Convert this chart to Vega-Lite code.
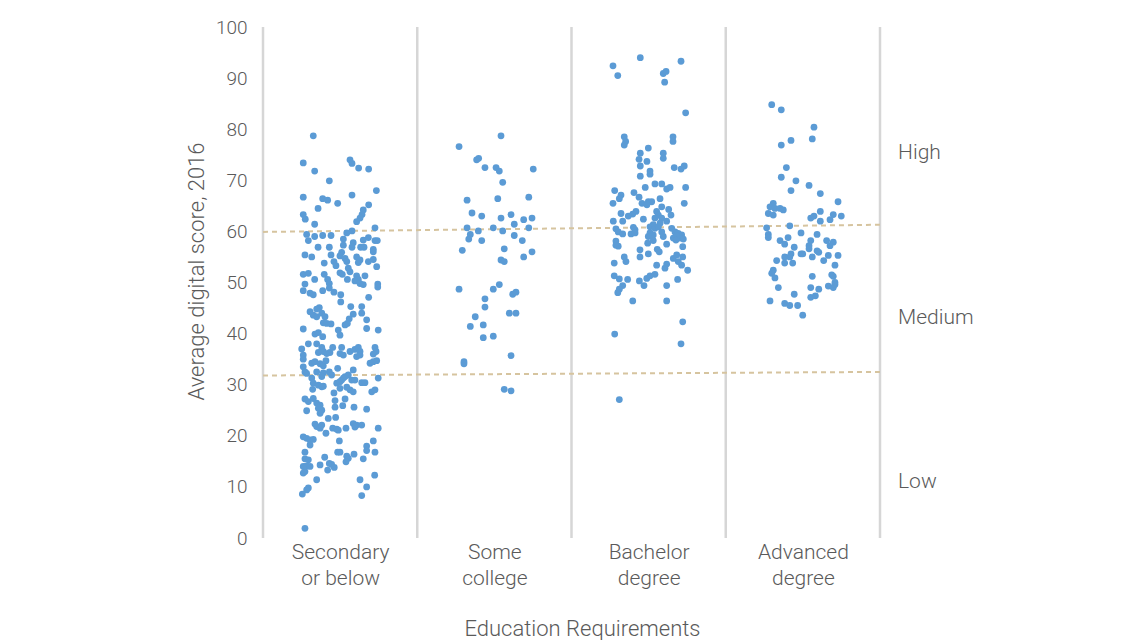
{
  "$schema": "https://vega.github.io/schema/vega-lite/v6.json",
  "autosize": "none",
  "width": 617,
  "height": 511,
  "padding": {"left": 263, "top": 27, "right": 253, "bottom": 102},
  "background": "white",
  "config": {"view": {"stroke": null}, "font": "Roboto"},
  "datasets": {
    "pts": [
      {"x":0.326,"s":78.7},{"x":0.261,"s":73.4},{"x":0.564,"s":74.0},{"x":0.577,"s":73.3},{"x":0.335,"s":71.8},{"x":0.620,"s":72.4},{"x":0.685,"s":72.2},{"x":0.430,"s":69.9},{"x":0.735,"s":68.0},{"x":0.261,"s":66.7},
      {"x":0.577,"s":67.1},{"x":0.387,"s":66.4},{"x":0.419,"s":66.1},{"x":0.484,"s":65.5},{"x":0.357,"s":64.5},{"x":0.685,"s":65.2},{"x":0.650,"s":64.2},{"x":0.642,"s":63.3},{"x":0.629,"s":62.6},{"x":0.607,"s":61.9},
      {"x":0.261,"s":63.3},{"x":0.274,"s":62.4},{"x":0.335,"s":61.4},{"x":0.726,"s":60.7},{"x":0.577,"s":60.1},{"x":0.543,"s":59.7},{"x":0.283,"s":59.4},{"x":0.335,"s":59.0},{"x":0.387,"s":59.2},{"x":0.441,"s":59.2},
      {"x":0.294,"s":58.2},{"x":0.521,"s":58.5},{"x":0.585,"s":57.8},{"x":0.650,"s":58.3},{"x":0.683,"s":58.8},{"x":0.726,"s":58.2},{"x":0.741,"s":58.2},{"x":0.521,"s":57.3},{"x":0.357,"s":56.9},{"x":0.430,"s":56.9},
      {"x":0.577,"s":56.9},{"x":0.633,"s":56.9},{"x":0.655,"s":56.9},{"x":0.715,"s":56.5},{"x":0.715,"s":56.0},{"x":0.510,"s":55.9},{"x":0.499,"s":55.2},{"x":0.272,"s":55.4},{"x":0.316,"s":55.0},{"x":0.441,"s":55.4},
      {"x":0.607,"s":55.0},{"x":0.629,"s":54.4},{"x":0.618,"s":53.9},{"x":0.532,"s":54.7},{"x":0.543,"s":54.1},{"x":0.715,"s":54.5},{"x":0.683,"s":54.1},{"x":0.460,"s":54.1},{"x":0.473,"s":53.3},{"x":0.397,"s":53.8},
      {"x":0.737,"s":53.1},{"x":0.553,"s":52.8},{"x":0.564,"s":52.1},{"x":0.261,"s":51.6},{"x":0.294,"s":51.8},{"x":0.397,"s":51.6},{"x":0.419,"s":50.6},{"x":0.430,"s":49.8},{"x":0.499,"s":51.9},{"x":0.514,"s":51.6},
      {"x":0.607,"s":51.3},{"x":0.618,"s":50.6},{"x":0.596,"s":50.3},{"x":0.661,"s":51.3},{"x":0.335,"s":50.6},{"x":0.547,"s":50.6},{"x":0.272,"s":49.7},{"x":0.629,"s":49.8},{"x":0.650,"s":49.6},{"x":0.744,"s":49.7},
      {"x":0.744,"s":49.1},{"x":0.261,"s":48.4},{"x":0.387,"s":48.4},{"x":0.430,"s":48.9},{"x":0.460,"s":48.1},{"x":0.305,"s":47.9},{"x":0.326,"s":47.6},{"x":0.504,"s":47.6},{"x":0.504,"s":46.2},{"x":0.685,"s":47.1},
      {"x":0.365,"s":45.1},{"x":0.348,"s":44.8},{"x":0.569,"s":45.3},{"x":0.640,"s":45.3},{"x":0.305,"s":44.3},{"x":0.326,"s":43.6},{"x":0.348,"s":43.3},{"x":0.381,"s":44.0},{"x":0.402,"s":43.3},{"x":0.585,"s":43.8},
      {"x":0.559,"s":42.9},{"x":0.547,"s":42.0},{"x":0.532,"s":41.7},{"x":0.640,"s":44.0},{"x":0.672,"s":42.7},{"x":0.391,"s":42.1},{"x":0.413,"s":42.0},{"x":0.441,"s":41.9},{"x":0.261,"s":40.9},{"x":0.488,"s":40.7},
      {"x":0.672,"s":41.0},{"x":0.747,"s":40.7},{"x":0.337,"s":39.9},{"x":0.359,"s":40.2},{"x":0.387,"s":39.4},{"x":0.499,"s":39.7},{"x":0.294,"s":38.0},{"x":0.348,"s":38.0},{"x":0.251,"s":37.0},{"x":0.381,"s":37.3},
      {"x":0.391,"s":36.5},{"x":0.359,"s":36.3},{"x":0.413,"s":36.1},{"x":0.434,"s":36.3},{"x":0.452,"s":37.3},{"x":0.510,"s":37.3},{"x":0.499,"s":36.1},{"x":0.521,"s":35.8},{"x":0.564,"s":36.5},{"x":0.596,"s":36.9},
      {"x":0.618,"s":37.3},{"x":0.629,"s":36.5},{"x":0.607,"s":35.5},{"x":0.629,"s":35.8},{"x":0.726,"s":37.3},{"x":0.733,"s":36.5},{"x":0.715,"s":36.0},{"x":0.261,"s":35.8},{"x":0.261,"s":35.0},{"x":0.316,"s":34.2},
      {"x":0.337,"s":34.5},{"x":0.370,"s":34.1},{"x":0.391,"s":33.7},{"x":0.408,"s":34.7},{"x":0.694,"s":34.2},{"x":0.715,"s":34.5},{"x":0.737,"s":34.7},{"x":0.261,"s":33.5},{"x":0.272,"s":32.5},{"x":0.283,"s":32.2},
      {"x":0.348,"s":32.5},{"x":0.391,"s":32.3},{"x":0.430,"s":32.5},{"x":0.445,"s":31.9},{"x":0.484,"s":33.2},{"x":0.585,"s":32.9},{"x":0.316,"s":31.3},{"x":0.326,"s":30.3},{"x":0.322,"s":29.1},{"x":0.381,"s":31.6},
      {"x":0.478,"s":30.3},{"x":0.499,"s":30.6},{"x":0.510,"s":30.9},{"x":0.521,"s":31.3},{"x":0.532,"s":31.6},{"x":0.553,"s":31.9},{"x":0.359,"s":29.9},{"x":0.381,"s":29.6},{"x":0.391,"s":29.7},{"x":0.575,"s":30.9},
      {"x":0.596,"s":30.9},{"x":0.640,"s":30.4},{"x":0.661,"s":30.4},{"x":0.747,"s":31.3},{"x":0.499,"s":29.3},{"x":0.543,"s":29.5},{"x":0.564,"s":29.0},{"x":0.585,"s":28.6},{"x":0.460,"s":28.4},{"x":0.705,"s":28.6},
      {"x":0.726,"s":29.0},{"x":0.272,"s":27.2},{"x":0.294,"s":26.7},{"x":0.326,"s":27.3},{"x":0.467,"s":26.9},{"x":0.532,"s":27.2},{"x":0.348,"s":26.4},{"x":0.370,"s":26.0},{"x":0.359,"s":25.4},{"x":0.381,"s":25.0},
      {"x":0.370,"s":24.4},{"x":0.467,"s":25.6},{"x":0.517,"s":25.9},{"x":0.590,"s":25.6},{"x":0.672,"s":25.2},{"x":0.283,"s":24.9},{"x":0.423,"s":23.4},{"x":0.471,"s":23.6},{"x":0.337,"s":22.3},{"x":0.348,"s":21.8},
      {"x":0.370,"s":21.5},{"x":0.381,"s":22.1},{"x":0.452,"s":21.5},{"x":0.478,"s":21.3},{"x":0.488,"s":21.1},{"x":0.538,"s":21.5},{"x":0.585,"s":22.4},{"x":0.607,"s":22.1},{"x":0.596,"s":21.7},{"x":0.640,"s":22.1},
      {"x":0.747,"s":21.5},{"x":0.408,"s":20.5},{"x":0.261,"s":19.8},{"x":0.283,"s":19.5},{"x":0.305,"s":19.2},{"x":0.326,"s":19.3},{"x":0.305,"s":18.2},{"x":0.495,"s":19.0},{"x":0.715,"s":19.0},{"x":0.672,"s":18.0},
      {"x":0.672,"s":17.1},{"x":0.272,"s":16.8},{"x":0.272,"s":15.5},{"x":0.294,"s":15.3},{"x":0.484,"s":16.8},{"x":0.499,"s":16.8},{"x":0.543,"s":16.0},{"x":0.553,"s":15.6},{"x":0.538,"s":14.9},{"x":0.590,"s":16.4},
      {"x":0.726,"s":16.8},{"x":0.400,"s":15.8},{"x":0.650,"s":15.5},{"x":0.430,"s":14.6},{"x":0.445,"s":14.4},{"x":0.462,"s":13.8},{"x":0.419,"s":13.3},{"x":0.370,"s":14.3},{"x":0.261,"s":14.0},{"x":0.283,"s":14.1},
      {"x":0.272,"s":13.0},{"x":0.261,"s":12.7},{"x":0.305,"s":14.0},{"x":0.724,"s":12.3},{"x":0.348,"s":11.4},{"x":0.629,"s":11.4},{"x":0.672,"s":10.0},{"x":0.294,"s":9.8},{"x":0.283,"s":9.4},{"x":0.255,"s":8.6},
      {"x":0.640,"s":8.3},{"x":0.272,"s":1.9},
      {"x":1.543,"s":78.7},{"x":1.271,"s":76.6},{"x":1.385,"s":74.0},{"x":1.398,"s":74.3},{"x":1.439,"s":72.5},{"x":1.511,"s":72.5},{"x":1.532,"s":71.8},{"x":1.752,"s":72.2},{"x":1.554,"s":69.6},{"x":1.323,"s":66.1},
      {"x":1.522,"s":66.4},{"x":1.723,"s":66.7},{"x":1.355,"s":63.6},{"x":1.418,"s":63.0},{"x":1.543,"s":62.6},{"x":1.608,"s":63.3},{"x":1.690,"s":62.3},{"x":1.744,"s":62.6},{"x":1.629,"s":61.4},{"x":1.323,"s":60.7},
      {"x":1.493,"s":60.7},{"x":1.723,"s":60.7},{"x":1.344,"s":59.4},{"x":1.334,"s":58.5},{"x":1.396,"s":60.1},{"x":1.554,"s":60.1},{"x":1.629,"s":59.2},{"x":1.418,"s":58.2},{"x":1.681,"s":58.2},{"x":1.292,"s":56.3},
      {"x":1.564,"s":56.6},{"x":1.690,"s":55.0},{"x":1.744,"s":56.0},{"x":1.543,"s":54.4},{"x":1.564,"s":54.1},{"x":1.271,"s":48.7},{"x":1.493,"s":48.7},{"x":1.532,"s":49.6},{"x":1.439,"s":46.8},{"x":1.439,"s":45.2},
      {"x":1.619,"s":47.7},{"x":1.640,"s":48.1},{"x":1.597,"s":44.0},{"x":1.640,"s":44.0},{"x":1.376,"s":43.3},{"x":1.344,"s":41.4},{"x":1.428,"s":41.7},{"x":1.428,"s":39.2},{"x":1.493,"s":39.5},{"x":1.608,"s":35.7},
      {"x":1.303,"s":34.5},{"x":1.303,"s":34.1},{"x":1.564,"s":29.1},{"x":1.608,"s":28.8},
      {"x":2.446,"s":94.0},{"x":2.269,"s":92.4},{"x":2.300,"s":90.5},{"x":2.710,"s":93.3},{"x":2.595,"s":90.9},{"x":2.613,"s":91.3},{"x":2.604,"s":89.2},{"x":2.740,"s":83.2},{"x":2.342,"s":78.5},{"x":2.351,"s":77.6},
      {"x":2.342,"s":76.9},{"x":2.658,"s":78.5},{"x":2.658,"s":77.6},{"x":2.498,"s":76.3},{"x":2.446,"s":75.3},{"x":2.438,"s":74.1},{"x":2.446,"s":72.8},{"x":2.595,"s":75.3},{"x":2.595,"s":74.3},{"x":2.489,"s":73.7},
      {"x":2.666,"s":72.5},{"x":2.710,"s":72.2},{"x":2.731,"s":72.8},{"x":2.509,"s":71.8},{"x":2.509,"s":71.2},{"x":2.446,"s":70.8},{"x":2.541,"s":69.3},{"x":2.585,"s":69.3},{"x":2.478,"s":68.6},{"x":2.617,"s":68.3},
      {"x":2.639,"s":68.6},{"x":2.740,"s":68.6},{"x":2.280,"s":68.0},{"x":2.321,"s":67.1},{"x":2.310,"s":66.4},{"x":2.405,"s":67.6},{"x":2.438,"s":66.7},{"x":2.574,"s":66.4},{"x":2.269,"s":65.5},{"x":2.457,"s":65.5},
      {"x":2.498,"s":65.8},{"x":2.520,"s":65.8},{"x":2.489,"s":65.2},{"x":2.585,"s":64.8},{"x":2.731,"s":65.5},{"x":2.630,"s":64.3},{"x":2.418,"s":63.9},{"x":2.397,"s":63.4},{"x":2.368,"s":63.0},{"x":2.321,"s":63.5},
      {"x":2.552,"s":63.9},{"x":2.563,"s":63.2},{"x":2.541,"s":62.6},{"x":2.645,"s":63.2},{"x":2.271,"s":62.0},{"x":2.332,"s":62.0},{"x":2.466,"s":62.4},{"x":2.585,"s":62.6},{"x":2.574,"s":61.6},{"x":2.617,"s":62.0},
      {"x":2.530,"s":61.3},{"x":2.509,"s":60.9},{"x":2.541,"s":60.6},{"x":2.563,"s":60.9},{"x":2.401,"s":60.8},{"x":2.412,"s":60.3},{"x":2.288,"s":60.5},{"x":2.303,"s":59.9},{"x":2.650,"s":60.6},{"x":2.671,"s":59.9},
      {"x":2.692,"s":59.6},{"x":2.714,"s":59.3},{"x":2.703,"s":58.7},{"x":2.682,"s":59.1},{"x":2.660,"s":58.7},{"x":2.332,"s":59.5},{"x":2.386,"s":59.5},{"x":2.412,"s":59.7},{"x":2.509,"s":59.7},{"x":2.530,"s":59.3},
      {"x":2.498,"s":59.0},{"x":2.585,"s":59.9},{"x":2.595,"s":59.0},{"x":2.288,"s":58.1},{"x":2.288,"s":57.3},{"x":2.303,"s":57.1},{"x":2.494,"s":57.7},{"x":2.530,"s":58.2},{"x":2.617,"s":57.5},{"x":2.677,"s":58.3},
      {"x":2.725,"s":58.5},{"x":2.721,"s":57.0},{"x":2.444,"s":56.4},{"x":2.444,"s":55.0},{"x":2.498,"s":55.6},{"x":2.556,"s":56.5},{"x":2.569,"s":56.0},{"x":2.342,"s":55.0},{"x":2.353,"s":54.1},{"x":2.682,"s":55.4},
      {"x":2.660,"s":54.7},{"x":2.692,"s":54.1},{"x":2.721,"s":55.0},{"x":2.277,"s":53.8},{"x":2.552,"s":53.4},{"x":2.617,"s":53.6},{"x":2.606,"s":52.8},{"x":2.714,"s":53.4},{"x":2.753,"s":52.4},{"x":2.277,"s":51.3},
      {"x":2.310,"s":50.7},{"x":2.364,"s":50.6},{"x":2.488,"s":50.8},{"x":2.509,"s":51.3},{"x":2.541,"s":51.6},{"x":2.440,"s":50.3},{"x":2.470,"s":49.4},{"x":2.332,"s":49.4},{"x":2.310,"s":48.7},{"x":2.300,"s":48.0},
      {"x":2.617,"s":49.4},{"x":2.688,"s":50.6},{"x":2.397,"s":46.4},{"x":2.617,"s":46.4},{"x":2.721,"s":42.3},{"x":2.280,"s":39.9},{"x":2.710,"s":38.0},{"x":2.310,"s":27.1},
      {"x":3.298,"s":84.8},{"x":3.360,"s":83.8},{"x":3.572,"s":80.4},{"x":3.561,"s":78.1},{"x":3.360,"s":76.9},{"x":3.423,"s":77.8},{"x":3.393,"s":72.5},{"x":3.360,"s":70.6},{"x":3.455,"s":69.9},{"x":3.540,"s":69.0},
      {"x":3.423,"s":68.0},{"x":3.613,"s":67.4},{"x":3.728,"s":65.8},{"x":3.308,"s":65.5},{"x":3.287,"s":64.8},{"x":3.319,"s":64.5},{"x":3.352,"s":64.5},{"x":3.373,"s":64.2},{"x":3.276,"s":63.5},{"x":3.308,"s":63.2},
      {"x":3.613,"s":63.9},{"x":3.697,"s":63.3},{"x":3.749,"s":63.0},{"x":3.676,"s":62.3},{"x":3.551,"s":62.6},{"x":3.572,"s":63.0},{"x":3.613,"s":62.0},{"x":3.265,"s":60.7},{"x":3.415,"s":61.1},{"x":3.276,"s":59.4},
      {"x":3.276,"s":58.8},{"x":3.488,"s":59.7},{"x":3.592,"s":59.4},{"x":3.404,"s":58.8},{"x":3.352,"s":58.2},{"x":3.382,"s":57.5},{"x":3.444,"s":56.9},{"x":3.551,"s":58.2},{"x":3.540,"s":57.2},{"x":3.540,"s":56.6},
      {"x":3.654,"s":58.2},{"x":3.697,"s":57.9},{"x":3.676,"s":57.2},{"x":3.592,"s":56.2},{"x":3.603,"s":55.9},{"x":3.423,"s":55.6},{"x":3.415,"s":55.0},{"x":3.382,"s":55.0},{"x":3.488,"s":55.6},{"x":3.499,"s":55.6},
      {"x":3.561,"s":55.0},{"x":3.665,"s":55.3},{"x":3.728,"s":55.3},{"x":3.330,"s":54.3},{"x":3.382,"s":53.8},{"x":3.434,"s":53.8},{"x":3.635,"s":54.3},{"x":3.708,"s":53.4},{"x":3.308,"s":52.4},{"x":3.298,"s":51.8},
      {"x":3.319,"s":50.9},{"x":3.561,"s":51.2},{"x":3.687,"s":51.5},{"x":3.697,"s":51.2},{"x":3.341,"s":49.0},{"x":3.551,"s":49.0},{"x":3.603,"s":48.7},{"x":3.665,"s":49.3},{"x":3.708,"s":50.0},{"x":3.697,"s":49.0},
      {"x":3.708,"s":49.6},{"x":3.287,"s":46.4},{"x":3.444,"s":47.7},{"x":3.382,"s":45.9},{"x":3.415,"s":45.5},{"x":3.466,"s":45.5},{"x":3.551,"s":47.1},{"x":3.581,"s":47.4},{"x":3.499,"s":43.6}
    ],
    "dividers": [{"x": 0}, {"x": 1}, {"x": 2}, {"x": 3}, {"x": 4}],
    "bands": [
      {"x": 0, "y": 59.9, "x2": 4, "y2": 61.3},
      {"x": 0, "y": 31.8, "x2": 4, "y2": 32.5}
    ],
    "levels": [
      {"x": 4.117, "y": 75.4, "label": "High"},
      {"x": 4.117, "y": 43.1, "label": "Medium"},
      {"x": 4.117, "y": 10.9, "label": "Low"}
    ]
  },
  "layer": [
    {
      "data": {"name": "dividers"},
      "mark": {"type": "rule", "color": "#d6d6d6", "strokeWidth": 2.5},
      "encoding": {
        "x": {
          "field": "x", "type": "quantitative",
          "scale": {"domain": [0, 4], "nice": false, "zero": false},
          "axis": {
            "values": [0.5, 1.5, 2.5, 3.5],
            "labelExpr": "datum.value == 0.5 ? ['Secondary', 'or below'] : datum.value == 1.5 ? ['Some', 'college'] : datum.value == 2.5 ? ['Bachelor', 'degree'] : ['Advanced', 'degree']",
            "title": "Education Requirements",
            "grid": false, "domain": false, "ticks": false,
            "labelFontSize": 21, "labelFontWeight": 300, "labelColor": "#5a5a5a", "labelLineHeight": 26,
            "labelPadding": 3, "labelOverlap": false, "labelFlush": false,
            "titleFontSize": 22, "titleColor": "#5a5a5a", "titleFontWeight": 300,
            "titlePadding": 30, "titleX": 319
          }
        },
        "y": {
          "datum": 0, "type": "quantitative",
          "scale": {"domain": [0, 100], "nice": false},
          "axis": {
            "values": [0, 10, 20, 30, 40, 50, 60, 70, 80, 90, 100],
            "title": "Average digital score, 2016",
            "grid": false, "domain": false, "ticks": false,
            "labelFontSize": 19, "labelFontWeight": 300, "labelColor": "#5a5a5a", "labelPadding": 16,
            "titleFontSize": 22, "titleColor": "#5a5a5a", "titleFontWeight": 300,
            "titlePadding": 7, "titleY": 244
          }
        },
        "y2": {"datum": 100}
      }
    },
    {
      "data": {"name": "bands"},
      "mark": {"type": "rule", "color": "#d6c49f", "strokeWidth": 2, "strokeDash": [5, 4]},
      "encoding": {
        "x": {"field": "x", "type": "quantitative"},
        "y": {"field": "y", "type": "quantitative"},
        "x2": {"field": "x2"},
        "y2": {"field": "y2"}
      }
    },
    {
      "data": {"name": "pts"},
      "mark": {"type": "circle", "color": "#5b9bd5", "opacity": 1, "size": 46},
      "encoding": {
        "x": {"field": "x", "type": "quantitative"},
        "y": {"field": "s", "type": "quantitative"}
      }
    },
    {
      "data": {"name": "levels"},
      "mark": {"type": "text", "align": "left", "baseline": "middle", "fontSize": 21, "fontWeight": 300, "color": "#5a5a5a"},
      "encoding": {
        "x": {"field": "x", "type": "quantitative"},
        "y": {"field": "y", "type": "quantitative"},
        "text": {"field": "label"}
      }
    }
  ]
}
